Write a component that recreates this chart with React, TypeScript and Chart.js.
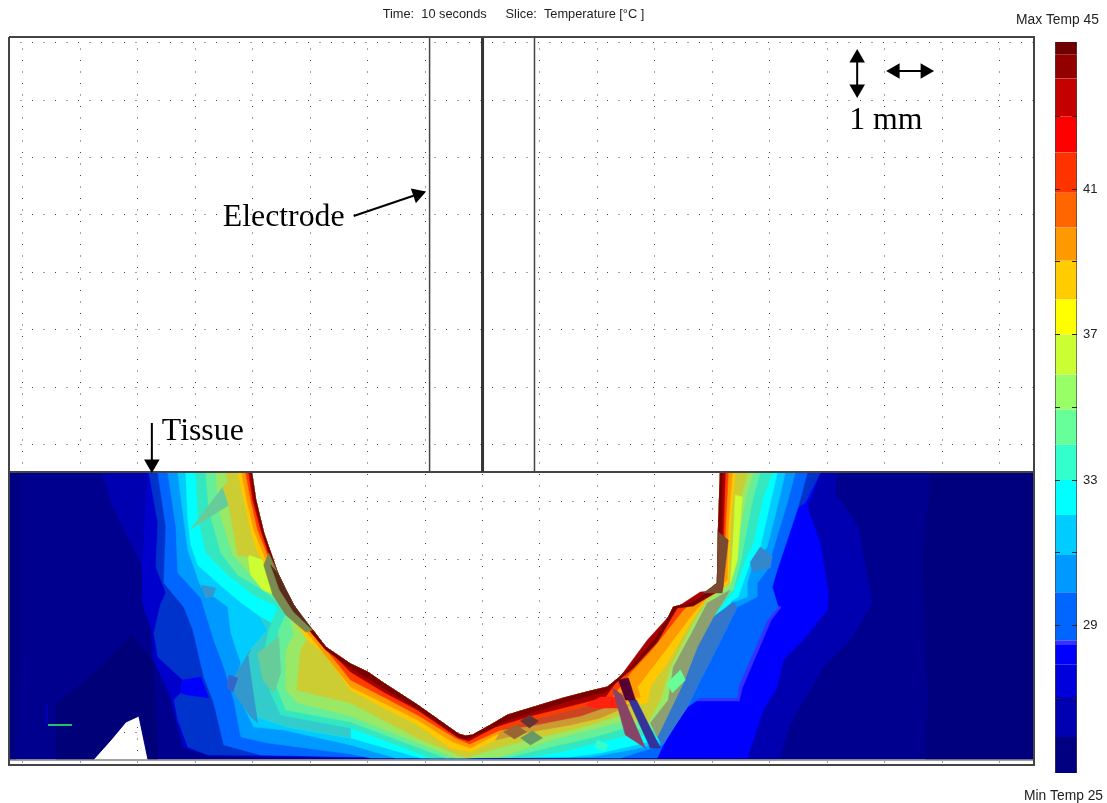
import React, { useEffect, useRef } from "react";
import { Chart, registerables } from "chart.js";

Chart.register(...registerables);

type P = [number, number];

// ---- scale ranges of the slice view and grid positions ----
const xRange = [8, 1034];
const yRange = [37, 765];
const gridX = [22, 79.5, 137, 194.5, 252, 309.5, 367, 424.5, 482, 539.5, 597, 654.5, 712, 769.5, 827, 884.5, 942, 999.5];
const gridY = [42.5, 100, 157, 214.5, 272, 329.5, 387, 444.5, 502, 559.5, 617, 674.5, 732];

// ---- colour bar ----
const barLows = [24.95, 25.94, 27.04, 27.94, 28.47, 28.6, 29.92, 30.94, 32.04, 33, 33.97, 34.93, 35.9, 37, 37.96, 39.03, 39.94, 40.9, 42, 43, 44.04, 44.7];
const barHighs = [25.94, 27.04, 27.94, 28.47, 28.6, 29.92, 30.94, 32.04, 33, 33.97, 34.93, 35.9, 37, 37.96, 39.03, 39.94, 40.9, 42, 43, 44.04, 44.7, 45.04];
const barColors = ["#000080", "#0000b0", "#0000dc", "#0000ff", "#3333ff", "#0066ff", "#0099ff", "#00ccff", "#00ffff", "#33ffcc", "#66ff99", "#99ff66", "#ccff33", "#ffff00", "#ffcc00", "#ff9900", "#ff6600", "#ff3300", "#ff0000", "#c40000", "#920000", "#6e0000"];
const barTicks = [27, 29, 31, 33, 35, 37, 39, 41, 43];
const barLabels = [29, 33, 37, 41];

// ---- boundary of the removed (white) zone and of the tissue ----
const holeLeft: P[] = [[251, 473], [255, 500], [263, 533], [270, 553], [277, 573], [285, 590], [293, 605], [303, 620], [312, 630], [325, 647], [350, 664], [367, 672], [383, 683], [417, 705], [458, 734], [465, 736]];
const holeRight: P[] = [[472, 735], [490, 725], [507, 715], [530, 708], [563, 698], [590, 691], [607, 687], [618, 678], [630, 667], [655, 638], [668, 617], [673, 607], [690, 603], [700, 597], [717, 583], [718, 532], [720, 473]];
const notch: P[] = [[147, 759], [138, 716], [125, 722], [110, 740], [93, 759]];

// ---- isotherm contours, coldest to hottest (left side, under the hole, right side) ----
const iso1: P[] = [[102, 473], [110, 503], [142, 567], [142, 603], [150, 630], [153, 660], [170, 700], [180, 737], [207, 755], [266, 758], [780, 758], [790, 723], [810, 690], [823, 667], [850, 640], [872, 603], [868, 583], [858, 527], [835, 493], [837, 473]];
const iso2: P[] = [[147, 473], [142, 567], [142, 603], [152, 630], [153, 660], [170, 693], [173, 710], [183, 747], [207, 755], [333, 757], [747, 758], [763, 710], [777, 687], [783, 660], [803, 640], [827, 610], [828, 593], [820, 543], [807, 507], [820, 473]];
const iso2Left: P[] = [[147, 473], [142, 567], [142, 603], [152, 630], [153, 660], [170, 693], [173, 710], [183, 747], [207, 755], [333, 757]];
const iso3Left: P[] = [[148, 473], [157, 523], [155, 567], [165, 593], [160, 603], [153, 633], [157, 657], [182, 680], [180, 693], [173, 700], [177, 720], [187, 747], [207, 755], [333, 756]];
const iso4: P[] = [[157, 473], [165, 527], [163, 583], [183, 607], [192, 630], [203, 677], [213, 703], [223, 745], [260, 755], [350, 757], [657, 758], [662, 747], [683, 710], [700, 698], [737, 698], [738, 687], [767, 620], [778, 607], [772, 587], [777, 570], [798, 507], [807, 473]];
const iso5: P[] = [[167, 473], [175, 527], [177, 573], [200, 598], [213, 640], [223, 667], [233, 700], [240, 737], [267, 743], [350, 754], [370, 758], [620, 758], [662, 745], [687, 707], [700, 680], [707, 667], [727, 627], [737, 607], [757, 597], [757, 583], [767, 570], [772, 553], [787, 503], [795, 473]];
const iso6: P[] = [[177, 473], [183, 520], [187, 550], [200, 587], [227, 607], [230, 633], [240, 663], [233, 687], [253, 727], [283, 730], [350, 745], [395, 758], [590, 757], [630, 750], [660, 743], [690, 700], [703, 660], [722, 623], [733, 602], [747, 597], [747, 583], [753, 563], [767, 547], [778, 503], [785, 473]];
const iso7: P[] = [[185, 473], [187, 520], [190, 545], [197, 565], [217, 583], [237, 600], [260, 617], [267, 630], [247, 653], [250, 687], [257, 717], [287, 727], [350, 738], [420, 758], [570, 757], [600, 753], [635, 745], [658, 740], [687, 690], [698, 657], [717, 620], [732, 600], [738, 597], [742, 585], [750, 563], [760, 547], [770, 503], [777, 473]];
const iso8: P[] = [[195, 473], [197, 515], [205, 553], [227, 575], [253, 595], [277, 607], [268, 630], [262, 660], [270, 693], [280, 715], [350, 728], [430, 758], [530, 757], [560, 752], [600, 742], [630, 735], [657, 737], [683, 683], [697, 647], [713, 617], [733, 592], [738, 580], [745, 560], [753, 543], [763, 497], [772, 473]];
const iso9: P[] = [[205, 473], [208, 510], [220, 553], [237, 575], [262, 590], [287, 610], [278, 630], [272, 677], [285, 710], [350, 722], [445, 758], [510, 757], [550, 747], [590, 738], [625, 728], [655, 730], [680, 677], [690, 647], [705, 610], [733, 590], [740, 563], [745, 537], [753, 497], [760, 473]];
const iso10: P[] = [[215, 473], [218, 510], [232, 555], [250, 575], [270, 590], [287, 610], [293, 635], [285, 650], [285, 690], [297, 703], [350, 716], [455, 758], [500, 757], [550, 740], [590, 730], [620, 722], [650, 723], [668, 700], [673, 667], [693, 630], [707, 603], [730, 588], [737, 560], [740, 527], [747, 493], [753, 473]];
const iso11: P[] = [[225, 473], [232, 500], [237, 520], [247, 555], [262, 560], [267, 575], [275, 595], [283, 605], [312, 630], [300, 650], [296, 690], [350, 703], [417, 738], [465, 758], [490, 750], [520, 742], [550, 735], [590, 725], [620, 715], [647, 723], [660, 700], [670, 667], [693, 623], [707, 600], [730, 583], [735, 540], [740, 500], [747, 473]];
const iso12: P[] = [[237, 473], [243, 500], [250, 530], [256, 550], [262, 560], [268, 580], [285, 610], [307, 640], [325, 655], [350, 690], [383, 708], [417, 725], [450, 748], [470, 752], [495, 740], [530, 732], [570, 725], [600, 718], [630, 705], [647, 703], [650, 687], [667, 663], [690, 623], [705, 600], [728, 583], [730, 527], [733, 493], [735, 473]];
const iso13: P[] = [[241, 473], [246, 500], [253, 530], [262, 552], [280, 595], [306, 632], [322, 652], [350, 687], [383, 703], [417, 720], [452, 742], [470, 748], [495, 735], [530, 727], [565, 720], [600, 712], [640, 697], [637, 687], [660, 657], [690, 617], [707, 597], [727, 580], [728, 527], [732, 473]];
const iso15: P[] = [[245, 473], [250, 500], [257, 530], [265, 550], [272, 570], [290, 610], [310, 632], [326, 650], [350, 680], [383, 697], [417, 715], [455, 738], [469, 744], [500, 730], [540, 718], [580, 708], [610, 700], [630, 673], [653, 648], [683, 610], [703, 593], [723, 587], [725, 532], [728, 473]];
const iso17: P[] = [[248, 473], [252, 500], [260, 530], [270, 560], [280, 585], [293, 610], [314, 634], [330, 652], [350, 672], [383, 692], [417, 710], [458, 738], [468, 741], [495, 727], [530, 716], [570, 706], [605, 697], [627, 667], [647, 640], [677, 607], [700, 592], [722, 590], [723, 532], [725, 473]];
const iso19: P[] = [[250, 473], [254, 500], [262, 533], [275, 573], [291, 606], [310, 632], [325, 650], [350, 668], [383, 688], [417, 709], [458, 737], [466, 739], [490, 729], [510, 719], [530, 713], [565, 702], [605, 692], [622, 677], [633, 668], [657, 642], [671, 618], [677, 608], [693, 606], [703, 600], [720, 590], [721, 532], [722, 473]];

// ---- local patches seen in the field ----
const stripRight: P[] = [[1034, 473], [1034, 759], [925, 759], [928, 700], [922, 560], [930, 490], [930, 473]];
const stripLeft: P[] = [[9, 473], [20, 473], [20, 620], [15, 759], [9, 759]];
const darkWedge: P[] = [[130, 635], [152, 660], [157, 759], [147, 759], [138, 716], [125, 722], [110, 740], [93, 759], [55, 759], [55, 705], [100, 667]];
const bluePatch: P[] = [[182, 680], [200, 677], [208, 698], [187, 695], [180, 693]];
const fringe: P[] = [[695, 701], [739, 701], [742, 688], [771, 620], [781, 607], [760, 600], [720, 660], [695, 690]];
const topBlue: P[] = [[807, 473], [820, 473], [805, 503], [798, 507]];
const tealLower: P[] = [[260, 617], [267, 630], [247, 653], [250, 687], [257, 717], [287, 727], [350, 738], [350, 700], [300, 640]];
const dullBlueLeft: P[] = [[250, 650], [233, 677], [233, 693], [250, 717], [257, 723], [252, 690], [247, 653]];
const dullBlueSmall: P[] = [[200, 585], [215, 588], [212, 597], [205, 598]];
const dullSquare: P[] = [[228, 675], [237, 678], [232, 692], [226, 688]];
const dullGreenLeft: P[] = [[257, 653], [278, 637], [280, 673], [273, 693], [262, 680]];
const tealWedge: P[] = [[190, 529], [222, 487], [228, 505]];
const oliveTop: P[] = [[222, 487], [236, 473], [240, 490], [248, 557], [237, 555], [228, 505]];
const brightLeft: P[] = [[247, 555], [262, 560], [267, 575], [275, 595], [262, 590], [250, 575]];
const brightRight: P[] = [[735, 495], [742, 497], [737, 560], [730, 583], [733, 540]];
const dullStripOuter: P[] = [[263, 565], [272, 595], [285, 615], [305, 632], [312, 630], [293, 605], [277, 573], [268, 553]];
const dullStripInner: P[] = [[270, 565], [279, 590], [293, 612], [312, 630], [293, 605], [277, 573]];
const dullRightBlue: P[] = [[760, 547], [772, 556], [770, 568], [752, 572], [750, 562]];
const dullRightLower: P[] = [[662, 745], [687, 707], [700, 680], [707, 667], [727, 627], [737, 607], [733, 602], [713, 617], [697, 647], [683, 683], [657, 737]];
const dullRightOchre: P[] = [[657, 737], [683, 683], [697, 647], [713, 617], [730, 590], [707, 603], [693, 630], [673, 667], [668, 700], [650, 723]];
const greenRight: P[] = [[667, 683], [680, 670], [685, 680], [672, 693]];
const brownRight: P[] = [[718, 532], [717, 583], [703, 593], [722, 593], [728, 540]];
const purpleTop: P[] = [[618, 680], [628, 678], [635, 700], [625, 700]];
const streakRed: P[] = [[612, 688], [622, 695], [645, 748], [625, 735]];
const streakBlue: P[] = [[628, 700], [636, 700], [660, 748], [650, 748]];
const brightRed: P[] = [[585, 705], [600, 697], [618, 697], [618, 708], [595, 708]];
const midWarm: P[] = [[495, 740], [530, 732], [570, 725], [600, 718], [630, 705], [612, 702], [565, 713], [530, 720], [500, 732]];
const midRed: P[] = [[500, 730], [540, 718], [580, 708], [610, 700], [612, 705], [580, 716], [530, 726]];
const midBrown: P[] = [[529, 715], [538, 721], [529, 728], [520, 721]];
const midOchre: P[] = [[516, 725], [526, 732], [514, 739], [503, 732]];
const midGreen: P[] = [[532, 731], [542, 738], [530, 745], [520, 738]];
const midIsland: P[] = [[597, 740], [608, 745], [605, 751], [594, 748]];

// ---- overlaid lines and arrows ----
const frameLine: P[] = [[8, 37], [1034, 37], [1034, 765], [8, 765], [8, 37]];
const tissueTop: P[] = [[8, 472], [1034, 472]];
const tissueBottom: P[] = [[8, 760], [1034, 760]];
const electrodeLeft: P[] = [[429, 37], [429, 472]];
const electrodeCentre: P[] = [[482, 37], [482, 472]];
const electrodeRight: P[] = [[534, 37], [534, 472]];
const probeGreen: P[] = [[47, 725], [71, 725]];
const probeBlue: P[] = [[46, 705], [46, 724]];
const arrowElectrode: P[] = [[353, 216], [418, 194]];
const arrowTissue: P[] = [[151, 423], [151, 460]];
const arrowVert: P[] = [[857, 58], [857, 89]];
const arrowHoriz: P[] = [[895, 71], [925, 71]];
const arrowHeads: P[] = [[417, 194.5], [151, 464], [857, 58], [857, 89], [895, 71], [925, 71]];
const arrowHeadAngles = [71, 180, 0, 180, 270, 90];

// ---- text ----
const topTexts: [string, number, number][] = [
  ["Time:  10 seconds", 382, 14],
  ["Slice:  Temperature [\u00B0C ]", 505, 14],
];
const sideTexts: [string, number, number][] = [
  ["Max Temp 45", 1016, 20],
  ["Min Temp 25", 1024, 796],
];
const serifTexts: [string, number, number][] = [
  ["Electrode", 222, 218],
  ["Tissue", 161, 432],
  ["1 mm", 849, 121],
];

const closeAll = (c: P[]): P[] => [...c, ...[...holeLeft, ...holeRight].reverse()];
const closeLeft = (c: P[]): P[] => [...c, [465, 758], ...[...holeLeft].reverse()];
const fieldOutline: P[] = [[9, 473], ...holeLeft, ...holeRight, [1034, 473], [1034, 759], ...notch, [9, 759]];

const toXY = (pts: P[]) => pts.map(([x, y]) => ({ x, y }));
const poly = (pts: P[], color: string) => ({
  type: "line" as const,
  data: toXY(pts),
  polygonFill: color,
  fill: false,
  borderWidth: 0,
  pointRadius: 0,
  tension: 0,
});
const stroke = (pts: P[], color: string, width: number) => ({
  type: "line" as const,
  data: toXY(pts),
  fill: false,
  borderColor: color,
  borderWidth: width,
  pointRadius: 0,
  tension: 0,
  clip: false,
});

const polygonPlugin = {
  id: "polygonFill",
  beforeDatasetDraw(chart: any, args: any) {
    const ds = chart.data.datasets[args.index];
    if (!ds.polygonFill) return;
    const ctx = chart.ctx;
    ctx.save();
    ctx.beginPath();
    args.meta.data.forEach((p: any, i: number) => (i ? ctx.lineTo(p.x, p.y) : ctx.moveTo(p.x, p.y)));
    ctx.closePath();
    ctx.fillStyle = ds.polygonFill;
    ctx.fill();
    ctx.strokeStyle = ds.polygonFill;
    ctx.lineWidth = 0.5;
    ctx.stroke();
    ctx.restore();
  },
};

const textPlugin = {
  id: "sliceText",
  afterDraw(chart: any) {
    const { ctx, scales } = chart;
    const put = (list: [string, number, number][], font: string, color: string) => {
      ctx.save();
      ctx.font = font;
      ctx.fillStyle = color;
      ctx.textBaseline = "middle";
      ctx.textAlign = "left";
      list.forEach(([t, x, y]) => ctx.fillText(t, scales.x.getPixelForValue(x), scales.y.getPixelForValue(y)));
      ctx.restore();
    };
    put(topTexts, '12.8px "Liberation Sans"', "#222");
    put(sideTexts, '13.8px "Liberation Sans"', "#222");
    put(serifTexts, '31.8px "Liberation Serif"', "#000");
  },
};

export default function App() {
  const mainRef = useRef<HTMLCanvasElement>(null);
  const barRef = useRef<HTMLCanvasElement>(null);

  useEffect(() => {
    const layers = [
      poly(fieldOutline, "#00008e"),
      poly(stripRight, "#00007e"),
      poly(stripLeft, "#000082"),
      poly(darkWedge, "#000078"),
      poly(closeAll(iso1), "#0000b0"),
      poly(closeAll(iso2), "#0000ff"),
      poly(closeLeft(iso2Left), "#0000cc"),
      poly(closeLeft(iso3Left), "#0033cc"),
      poly(bluePatch, "#0000ff"),
      poly(topBlue, "#0033cc"),
      poly(fringe, "#3333ff"),
      poly(closeAll(iso4), "#0066ff"),
      poly(closeAll(iso5), "#0099ff"),
      poly(closeAll(iso6), "#00ccff"),
      poly(dullBlueSmall, "#3399cc"),
      poly(closeAll(iso7), "#00ffff"),
      poly(tealLower, "#33cccc"),
      poly(dullBlueLeft, "#3399cc"),
      poly(dullSquare, "#3366cc"),
      poly(closeAll(iso8), "#33e8c0"),
      poly(closeAll(iso9), "#66ee99"),
      poly(dullGreenLeft, "#66cc99"),
      poly(dullRightLower, "#3377cc"),
      poly(closeAll(iso10), "#99e866"),
      poly(dullRightOchre, "#8fa070"),
      poly(closeAll(iso11), "#cccc33"),
      poly(brightLeft, "#ccff33"),
      poly(brightRight, "#ccff33"),
      poly(tealWedge, "#66cc99"),
      poly(oliveTop, "#cccc33"),
      poly(dullRightBlue, "#3388cc"),
      poly(closeAll(iso12), "#ffc800"),
      poly(closeAll(iso13), "#ff9900"),
      poly(midWarm, "#cc9933"),
      poly(greenRight, "#66ff99"),
      poly(closeAll(iso15), "#ff3c00"),
      poly(midRed, "#cc4422"),
      poly(closeAll(iso17), "#a80000"),
      poly(closeAll(iso19), "#7a0000"),
      poly(dullStripOuter, "#7a8a50"),
      poly(dullStripInner, "#5a2a1a"),
      poly(brownRight, "#7a4a30"),
      poly(brightRed, "#ff2211"),
      poly(midBrown, "#663333"),
      poly(midOchre, "#996633"),
      poly(midGreen, "#669966"),
      poly(midIsland, "#33ffcc"),
      poly(streakRed, "#884466"),
      poly(streakBlue, "#333399"),
      poly(purpleTop, "#550033"),
      stroke(probeBlue, "#0000cc", 1.5),
      stroke(probeGreen, "#22c070", 2),
      stroke(tissueBottom, "#444", 1),
      stroke(tissueTop, "#444", 2),
      stroke(electrodeLeft, "#444", 1.5),
      stroke(electrodeRight, "#444", 1.5),
      stroke(electrodeCentre, "#333", 3),
      stroke(frameLine, "#444", 2),
      stroke(arrowElectrode, "#000", 2),
      stroke(arrowTissue, "#000", 2),
      stroke(arrowVert, "#000", 2),
      stroke(arrowHoriz, "#000", 2),
      {
        type: "line" as const,
        data: toXY(arrowHeads),
        showLine: false,
        pointStyle: "triangle",
        pointRadius: 9,
        pointRotation: arrowHeadAngles,
        pointBackgroundColor: "#000",
        pointBorderColor: "#000",
        pointBorderWidth: 0,
        clip: false,
      },
    ];

    const main = new Chart(mainRef.current!, {
      type: "line",
      data: { datasets: [...layers].reverse() as any },
      plugins: [polygonPlugin, textPlugin],
      options: {
        animation: false,
        responsive: false,
        events: [],
        layout: { padding: { left: xRange[0], top: yRange[0], right: 1107 - xRange[1], bottom: 803 - yRange[1] } },
        plugins: { legend: { display: false }, tooltip: { enabled: false } },
        scales: {
          x: {
            type: "linear",
            min: xRange[0],
            max: xRange[1],
            afterBuildTicks: (s: any) => { s.ticks = gridX.map((value) => ({ value })); },
            ticks: { display: false },
            grid: { color: "#444", lineWidth: 1, drawTicks: false },
            border: { display: false, dash: [1, 10.5] },
          },
          y: {
            type: "linear",
            reverse: true,
            min: yRange[0],
            max: yRange[1],
            afterBuildTicks: (s: any) => { s.ticks = gridY.map((value) => ({ value })); },
            ticks: { display: false },
            grid: { color: "#444", lineWidth: 1, drawTicks: false },
            border: { display: false, dash: [1, 10.5] },
          },
        },
      } as any,
    });

    const bar = new Chart(barRef.current!, {
      type: "bar",
      data: {
        labels: ["Temperature"],
        datasets: barLows.map((low, i) => ({
          data: [[low, barHighs[i]]],
          backgroundColor: barColors[i],
          borderColor: "#444",
          borderWidth: { left: 1, right: 1, top: 0, bottom: 0 },
          borderSkipped: false,
          barPercentage: 1,
          categoryPercentage: 1,
          grouped: false,
        })) as any,
      },
      options: {
        animation: false,
        responsive: false,
        events: [],
        layout: { padding: { left: 1055, top: 42, right: 0, bottom: 30 } },
        plugins: { legend: { display: false }, tooltip: { enabled: false } },
        scales: {
          x: { display: false },
          y: {
            position: "right",
            min: 24.95,
            max: 45.04,
            afterBuildTicks: (s: any) => { s.ticks = barTicks.map((value) => ({ value })); },
            afterFit: (s: any) => { s.width = 30; },
            ticks: {
              padding: 6,
              color: "#222",
              font: { family: "Liberation Sans", size: 13 },
              callback: (v: any) => (barLabels.includes(v) ? String(v) : ""),
            },
            grid: { z: 1, color: "#222", drawTicks: false },
            border: { display: false, dash: [5, 12, 5] },
          },
        },
      } as any,
    });

    return () => {
      main.destroy();
      bar.destroy();
    };
  }, []);

  const style: React.CSSProperties = { position: "absolute", left: 0, top: 0, display: "block", filter: "blur(0.5px)" };
  return (
    <div style={{ position: "absolute", left: 0, top: 0, width: 1107, height: 803, background: "#fff", overflow: "hidden" }}>
      <canvas ref={mainRef} width={1107} height={803} style={style} />
      <canvas ref={barRef} width={1107} height={803} style={style} />
    </div>
  );
}
